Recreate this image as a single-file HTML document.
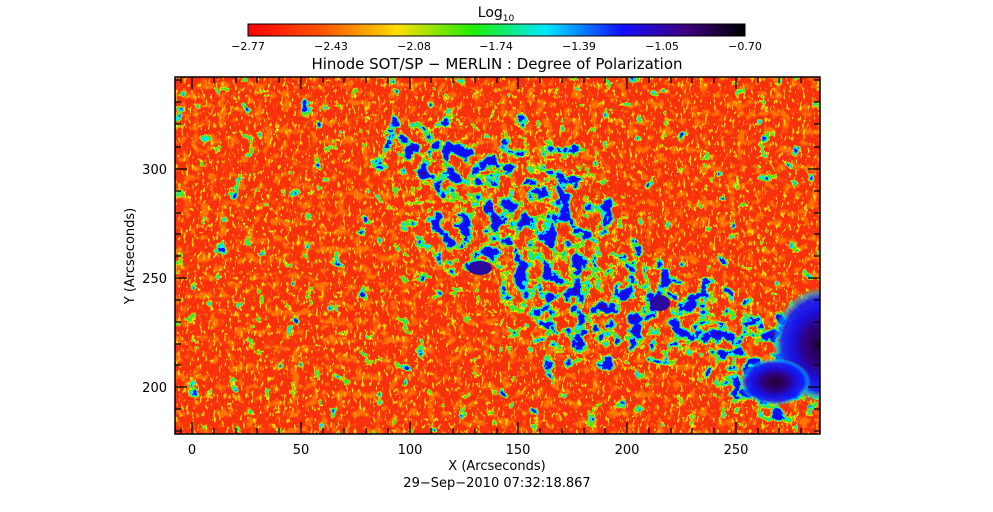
<!DOCTYPE html>
<html><head><meta charset="utf-8"><style>
html,body{margin:0;padding:0;background:#fff;}
svg{display:block;font-family:"DejaVu Sans","Liberation Sans",sans-serif;}
</style></head><body>
<svg width="993" height="512" viewBox="0 0 993 512" xmlns="http://www.w3.org/2000/svg">
<defs>
<linearGradient id="cb" x1="0" x2="1" y1="0" y2="0">
<stop offset="0" stop-color="#ff0000"/>
<stop offset="0.15" stop-color="#ff5500"/>
<stop offset="0.3" stop-color="#ffdd00"/>
<stop offset="0.45" stop-color="#22ee00"/>
<stop offset="0.6" stop-color="#00e8ff"/>
<stop offset="0.75" stop-color="#1010ff"/>
<stop offset="0.88" stop-color="#400080"/>
<stop offset="1" stop-color="#000000"/>
</linearGradient>
<filter id="speck" filterUnits="userSpaceOnUse" x="175" y="77" width="645" height="357" color-interpolation-filters="sRGB">
<feTurbulence type="fractalNoise" baseFrequency="0.37 0.17" numOctaves="2" seed="7"/>
<feColorMatrix type="matrix" values="0 0 0 0 1  0 0 0 0 0.85  0 0 0 0 0  9 0 0 0 -5.4"/>
</filter>
<filter id="speck2" filterUnits="userSpaceOnUse" x="175" y="77" width="645" height="357" color-interpolation-filters="sRGB">
<feTurbulence type="fractalNoise" baseFrequency="0.11" numOctaves="2" seed="11"/>
<feColorMatrix type="matrix" values="0 0 0 0 1  0 0 0 0 0.45  0 0 0 0 0  5 0 0 0 -2.6"/>
</filter>
<filter id="net" filterUnits="userSpaceOnUse" x="175" y="77" width="645" height="357" color-interpolation-filters="sRGB">
<feTurbulence type="fractalNoise" baseFrequency="0.07" numOctaves="4" seed="3" result="n"/>
<feComposite in="n" in2="SourceGraphic" operator="arithmetic" k1="0" k2="1" k3="0.11" k4="0" result="s"/>
<feColorMatrix in="s" type="matrix" values="2.5 0 0 0 -1.25  2.5 0 0 0 -1.25  2.5 0 0 0 -1.25  2.5 0 0 0 -1.25"/>
<feComponentTransfer>
<feFuncR type="discrete" tableValues="1 1 1 1 1 1 1 1 1 1 1 0.3 0.3 0.3 0.3 0.3 0.3 0 0 0 0 0 0.05 0.05 0.05 0.05 0.05 0.05 0.05 0.05 0.05 0.05 0.05 0.05 0.05 0.05 0.05 0.05 0.05 0.05 0.05 0.2 0.2 0.2 0.2 0.2 0.2 0.2 0.2 0.2"/>
<feFuncG type="discrete" tableValues="0 0 0 0 0 0 0 0.5 0.5 0.95 0.95 0.9 0.9 0.9 0.9 0.9 0.9 0.9 0.9 0.9 0.9 0.9 0.05 0.05 0.05 0.05 0.05 0.05 0.05 0.05 0.05 0.05 0.05 0.05 0.05 0.05 0.05 0.05 0.05 0.05 0.05 0 0 0 0 0 0 0 0 0"/>
<feFuncB type="discrete" tableValues="0 0 0 0 0 0 0 0 0 0 0 0.1 0.1 0.1 0.1 0.1 0.1 1 1 1 1 1 1 1 1 1 1 1 1 1 1 1 1 1 1 1 1 1 1 1 1 0.6 0.6 0.6 0.6 0.6 0.6 0.6 0.6 0.6"/>
<feFuncA type="discrete" tableValues="0 0 0 0 0 0 0 1 1 1 1 1 1 1 1 1 1 1 1 1 1 1 1 1 1 1 1 1 1 1 1 1 1 1 1 1 1 1 1 1 1 1 1 1 1 1 1 1 1 1"/>
</feComponentTransfer>
</filter>
<radialGradient id="mk">
<stop offset="0" stop-color="#fff"/>
<stop offset="0.55" stop-color="#fff"/>
<stop offset="1" stop-color="#fff" stop-opacity="0"/>
</radialGradient>
<radialGradient id="spot" cx="0.5" cy="0.5" r="0.5">
<stop offset="0" stop-color="#200030"/>
<stop offset="0.35" stop-color="#300080"/>
<stop offset="0.6" stop-color="#1a10e0"/>
<stop offset="0.8" stop-color="#1020ff" stop-opacity="0.9"/>
<stop offset="0.92" stop-color="#00ccff" stop-opacity="0.5"/>
<stop offset="1" stop-color="#40ee20" stop-opacity="0"/>
</radialGradient>
<clipPath id="pc"><rect x="175" y="77" width="645" height="357"/></clipPath>
</defs>

<text x="496" y="17" font-size="14" text-anchor="middle">Log<tspan font-size="9" dy="4">10</tspan></text>
<rect x="248" y="24" width="497" height="12" fill="url(#cb)" stroke="#000" stroke-width="1"/>
<g font-size="11" text-anchor="middle">
<text x="248" y="50">−2.77</text><text x="331" y="50">−2.43</text><text x="414" y="50">−2.08</text>
<text x="496" y="50">−1.74</text><text x="579" y="50">−1.39</text><text x="662" y="50">−1.05</text><text x="745" y="50">−0.70</text>
</g>
<text x="497" y="69" font-size="15" text-anchor="middle">Hinode SOT/SP − MERLIN : Degree of Polarization</text>

<g clip-path="url(#pc)">
<rect x="175" y="77" width="645" height="357" fill="#f8300c"/>
<rect x="175" y="77" width="645" height="357" filter="url(#speck2)"/>
<rect x="175" y="77" width="645" height="357" filter="url(#speck)"/>
<g filter="url(#net)">
<rect x="175" y="77" width="645" height="357" fill="#000"/>
<ellipse cx="510" cy="210" rx="130" ry="90" fill="url(#mk)"/>
<ellipse cx="590" cy="300" rx="110" ry="80" fill="url(#mk)"/>
<ellipse cx="690" cy="320" rx="80" ry="50" fill="url(#mk)"/>
<ellipse cx="420" cy="150" rx="60" ry="40" fill="url(#mk)"/>
<ellipse cx="770" cy="370" rx="80" ry="70" fill="url(#mk)"/>
</g>
<ellipse cx="822" cy="345" rx="50" ry="58" fill="url(#spot)"/>
<ellipse cx="775" cy="382" rx="36" ry="24" fill="url(#spot)"/>
<ellipse cx="480" cy="268" rx="12" ry="7" fill="#2a0aa0"/>
<ellipse cx="660" cy="303" rx="10" ry="8" fill="#2a0aa0"/>
</g>
<rect x="175" y="77" width="645" height="357" fill="none" stroke="#000" stroke-width="1.5"/>

<g stroke="#000" stroke-width="1.2">
<path d="M192 434v-12M192 77v12M301 434v-12M301 77v12M410 434v-12M410 77v12M518 434v-12M518 77v12M627 434v-12M627 77v12M736 434v-12M736 77v12"/>
<path d="M175 387h12M820 387h-12M175 278h12M820 278h-12M175 169h12M820 169h-12"/>
<path d="M214 434v-6M236 434v-6M257 434v-6M279 434v-6M323 434v-6M344 434v-6M366 434v-6M388 434v-6M431 434v-6M453 434v-6M475 434v-6M497 434v-6M540 434v-6M562 434v-6M584 434v-6M605 434v-6M649 434v-6M671 434v-6M692 434v-6M714 434v-6M758 434v-6M779 434v-6M801 434v-6M181 434v-6
M214 77v6M236 77v6M257 77v6M279 77v6M323 77v6M344 77v6M366 77v6M388 77v6M431 77v6M453 77v6M475 77v6M497 77v6M540 77v6M562 77v6M584 77v6M605 77v6M649 77v6M671 77v6M692 77v6M714 77v6M758 77v6M779 77v6M801 77v6M181 77v6"/>
<path d="M175 80h6M175 102h6M175 124h6M175 147h6M175 191h6M175 213h6M175 234h6M175 256h6M175 300h6M175 322h6M175 344h6M175 365h6M175 409h6M175 431h6
M820 80h-6M820 102h-6M820 124h-6M820 147h-6M820 191h-6M820 213h-6M820 234h-6M820 256h-6M820 300h-6M820 322h-6M820 344h-6M820 365h-6M820 409h-6M820 431h-6"/>
</g>
<g font-size="13" text-anchor="middle">
<text x="192" y="454">0</text><text x="301" y="454">50</text><text x="410" y="454">100</text>
<text x="518" y="454">150</text><text x="627" y="454">200</text><text x="736" y="454">250</text>
</g>
<g font-size="13" text-anchor="end">
<text x="167" y="392">200</text><text x="167" y="283">250</text><text x="167" y="174">300</text>
</g>
<text x="497" y="470" font-size="13" text-anchor="middle">X (Arcseconds)</text>
<text x="497" y="487" font-size="13" text-anchor="middle">29−Sep−2010 07:32:18.867</text>
<text transform="translate(134,256) rotate(-90)" font-size="13" text-anchor="middle">Y (Arcseconds)</text>
</svg>
</body></html>
